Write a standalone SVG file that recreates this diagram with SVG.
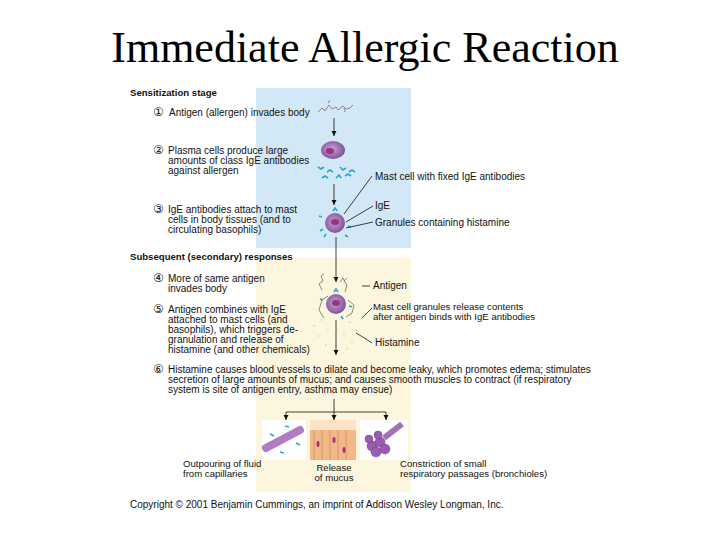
<svg xmlns="http://www.w3.org/2000/svg" width="720" height="540" viewBox="0 0 720 540">
<style>
.t{font-family:"Liberation Sans",Arial,sans-serif;font-size:10px;fill:#111}
.s{font-family:"Liberation Sans",Arial,sans-serif;font-size:9.6px;fill:#111}
.h{font-family:"Liberation Sans",Arial,sans-serif;font-size:9.6px;font-weight:bold;fill:#111}
.n{font-family:"DejaVu Sans",sans-serif;font-size:12px;fill:#111}
.ln{stroke:#111;stroke-width:0.8;fill:none}
.ag{stroke:#877;stroke-width:0.9;fill:none}
.ab{stroke:#2aa6c8;stroke-width:1.6;fill:none}
</style>
<defs>
<marker id="ar" markerWidth="6" markerHeight="6" refX="5" refY="3" orient="auto" markerUnits="userSpaceOnUse"><path d="M0,0.5 L5,3 L0,5.5z" fill="#111"/></marker>
<radialGradient id="cell" cx="0.45" cy="0.45" r="0.6"><stop offset="0" stop-color="#c9a0d8"/><stop offset="1" stop-color="#7b4d95"/></radialGradient>
</defs>
<rect width="720" height="540" fill="#fff"/>
<text x="365" y="62" text-anchor="middle" style="font-family:'Liberation Serif',serif;font-size:44px" fill="#000">Immediate Allergic Reaction</text>
<rect x="256" y="88" width="155" height="160" fill="#d3e8f7"/>
<rect x="256" y="258" width="155" height="234" fill="#fdf6df"/>
<g id="labels">
<text class="h" x="130" y="96">Sensitization stage</text>
<text class="n" x="153" y="116">①</text><text class="t" x="169" y="116">Antigen (allergen) invades body</text>
<text class="n" x="153" y="154">②</text><text class="t" x="168" y="154">Plasma cells produce large</text>
<text class="t" x="168" y="164">amounts of class IgE antibodies</text>
<text class="t" x="168" y="174">against allergen</text>
<text class="n" x="153" y="213">③</text><text class="t" x="168" y="213">IgE antibodies attach to mast</text>
<text class="t" x="168" y="223">cells in body tissues (and to</text>
<text class="t" x="168" y="233">circulating basophils)</text>
<text class="h" x="130" y="260">Subsequent (secondary) responses</text>
<text class="n" x="153" y="282">④</text><text class="t" x="168" y="282">More of same antigen</text>
<text class="t" x="168" y="292">invades body</text>
<text class="n" x="153" y="313">⑤</text><text class="t" x="168" y="313">Antigen combines with IgE</text>
<text class="t" x="168" y="323">attached to mast cells (and</text>
<text class="t" x="168" y="333">basophils), which triggers de-</text>
<text class="t" x="168" y="343">granulation and release of</text>
<text class="t" x="168" y="353">histamine (and other chemicals)</text>
<text class="n" x="153" y="373">⑥</text><text class="t" x="168" y="373">Histamine causes blood vessels to dilate and become leaky, which promotes edema; stimulates</text>
<text class="t" x="168" y="383">secretion of large amounts of mucus; and causes smooth muscles to contract (if respiratory</text>
<text class="t" x="168" y="393">system is site of antigen entry, asthma may ensue)</text>
<text class="t" x="375" y="180">Mast cell with fixed IgE antibodies</text>
<text class="t" x="375" y="209">IgE</text>
<text class="t" x="375" y="226">Granules containing histamine</text>
<text class="t" x="373" y="289">Antigen</text>
<text class="s" x="373" y="310">Mast cell granules release contents</text>
<text class="s" x="373" y="320">after antigen binds with IgE antibodies</text>
<text class="t" x="375" y="346">Histamine</text>
<text class="s" x="183" y="467">Outpouring of fluid</text>
<text class="s" x="183" y="477">from capillaries</text>
<text class="s" x="334" y="471" text-anchor="middle">Release</text>
<text class="s" x="334" y="481" text-anchor="middle">of mucus</text>
<text class="s" x="400" y="467">Constriction of small</text>
<text class="s" x="400" y="477">respiratory passages (bronchioles)</text>
<text class="t" x="130" y="508">Copyright © 2001 Benjamin Cummings, an imprint of Addison Wesley Longman, Inc.</text>
</g>
<g id="antigen1"><path class="ag" d="M318,112 l4,-4 3,3 4,-6 3,4 4,-2 2,3 5,-4 3,3 4,-1 3,-3 M328,103 l2,-3 M344,108 l1,4"/></g>
<g id="plasma-cell"><ellipse cx="333" cy="150" rx="12" ry="9" fill="url(#cell)"/><ellipse cx="330" cy="151" rx="4" ry="3" fill="#a0307a"/>
<path class="ab" d="M318,167 l3,2 3,-2 M327,172 l3,-2 3,2 M340,167 l3,3 3,-2 M349,172 l3,-2 3,2 M322,178 l3,-2 3,2 M336,178 l3,-3 2,3 M345,176 l3,-2 3,2"/></g>
<g id="mast-cell1"><circle cx="335" cy="223" r="10" fill="url(#cell)"/><ellipse cx="335" cy="222" rx="4" ry="3" fill="#a0307a"/>
<path class="ab" d="M333,211 l2,-3 2,3 M322,217 l-3,-1 M348,226 l3,1 M326,234 l-2,3 M345,235 l3,2 M323,229 l-3,2"/></g>
<g id="mast-cell2"><path class="ag" d="M322,290 l-3,-6 4,-3 -2,-5 3,-2 M345,292 l2,-7 -3,-4 3,-3 M328,296 l-6,4 -3,10 5,8 M348,300 l6,5 -2,8 -6,4 M340,282 l3,-4 2,4"/>
<circle cx="336" cy="304" r="10" fill="url(#cell)"/><ellipse cx="336" cy="303" rx="4" ry="3" fill="#a0307a"/>
<path class="ab" d="M334,292 l2,-3 2,3 M323,300 l-3,-1 M349,306 l3,1 M341,316 l2,3"/>
<g fill="#c9b79c"><circle cx="322" cy="320" r="0.7"/><circle cx="350" cy="322" r="0.7"/><circle cx="328" cy="330" r="0.7"/><circle cx="344" cy="334" r="0.7"/><circle cx="318" cy="336" r="0.7"/><circle cx="352" cy="342" r="0.7"/><circle cx="326" cy="345" r="0.7"/><circle cx="347" cy="349" r="0.7"/><circle cx="314" cy="326" r="0.7"/><circle cx="356" cy="330" r="0.7"/></g></g>
<g id="capillary"><rect x="262" y="420" width="44" height="40" fill="#fff"/><path d="M266,448 L300,430" stroke="#b07cc6" stroke-width="8" stroke-linecap="round"/><path class="ab" d="M270,434 l4,2 M285,426 l4,1 M296,443 l4,2 M280,452 l4,1"/></g>
<g id="mucus"><rect x="310" y="420" width="46" height="40" fill="#f1b98a"/><path d="M314,420 v40 M322,420 v40 M330,420 v40 M338,420 v40 M346,420 v40" stroke="#e4a06e" stroke-width="1.5"/><rect x="310" y="420" width="46" height="10" fill="#fbe3c8"/><g fill="#a0307a"><ellipse cx="318" cy="444" rx="1.5" ry="3"/><ellipse cx="334" cy="440" rx="1.5" ry="3"/><ellipse cx="344" cy="450" rx="1.5" ry="3"/></g></g>
<g id="bronchiole"><rect x="360" y="420" width="48" height="40" fill="#fff"/><path d="M384,438 L402,424" stroke="#a070b8" stroke-width="6"/><g fill="#9a5cb0" stroke="#6d3b85" stroke-width="0.5"><circle cx="372" cy="446" r="5"/><circle cx="380" cy="442" r="5"/><circle cx="376" cy="452" r="5"/><circle cx="385" cy="449" r="5"/><circle cx="369" cy="439" r="4"/><circle cx="378" cy="435" r="4"/></g></g>
<g id="connectors">
<path class="ln" d="M334,118 V136" marker-end="url(#ar)"/>
<path class="ln" d="M334,184 V205" marker-end="url(#ar)"/>
<path class="ln" d="M336,237 V282" marker-end="url(#ar)"/>
<path class="ln" d="M336,320 V355" marker-end="url(#ar)"/>
<path class="ln" d="M334,399 V412 M286,412 H386"/>
<path class="ln" d="M286,412 V420" marker-end="url(#ar)"/>
<path class="ln" d="M334,412 V420" marker-end="url(#ar)"/>
<path class="ln" d="M386,412 V420" marker-end="url(#ar)"/>
<path class="ln" d="M372,176 L344,214"/>
<path class="ln" d="M373,206 L346,222"/>
<path class="ln" d="M373,222 L346,228"/>
<path class="ln" d="M362,286 H370"/>
<path class="ln" d="M372,308 L362,318"/>
<path class="ln" d="M356,333 L366,339 L372,343"/>
</g>
</svg>
